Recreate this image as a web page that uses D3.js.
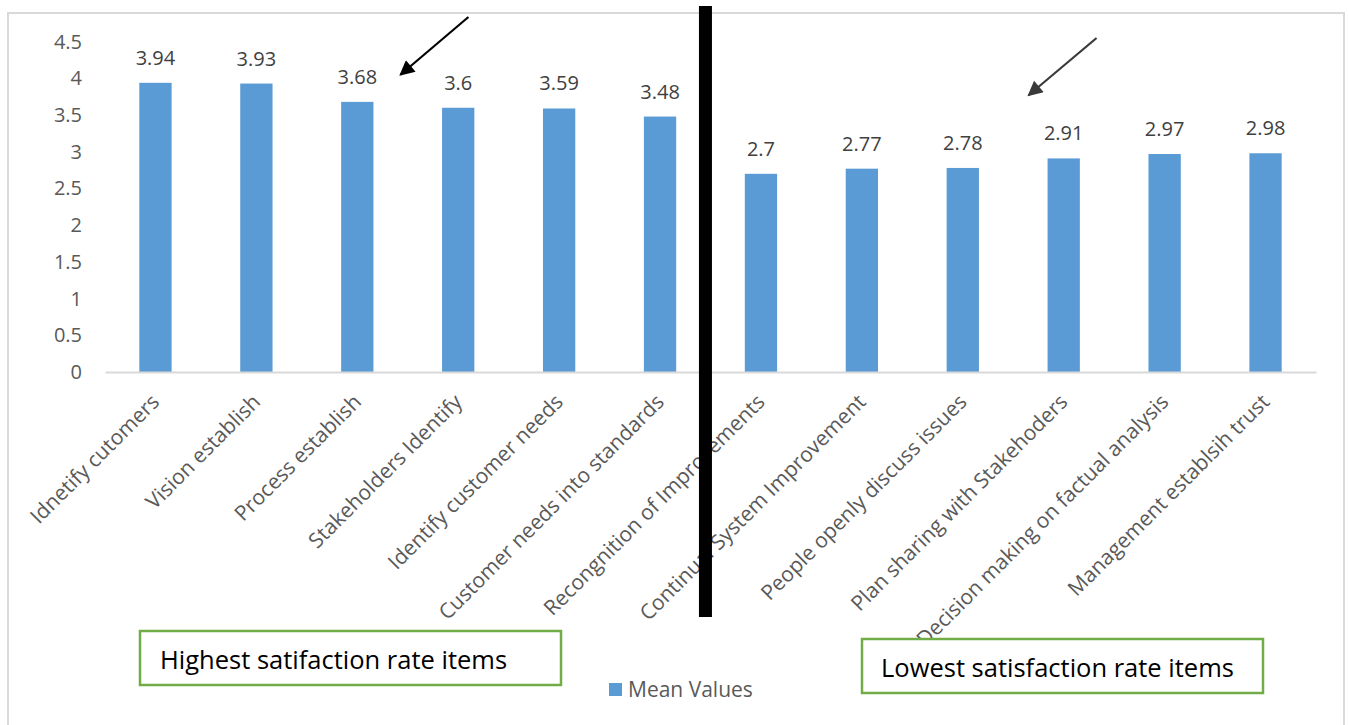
<!DOCTYPE html>
<html>
<head>
<meta charset="utf-8">
<script src="https://cdn.jsdelivr.net/npm/d3@7"></script>
<style>
  html, body { margin: 0; padding: 0; background: #ffffff; }
  svg { display: block; font-family: "Open Sans", "Noto Sans", sans-serif; }
</style>
</head>
<body>
<svg id="chart" width="1349" height="725"></svg>
<script>
// Survey items and their mean satisfaction values
const categories = [
  "Idnetify cutomers",
  "Vision establish",
  "Process establish",
  "Stakeholders Identify",
  "Identify customer needs",
  "Customer needs into standards",
  "Recongnition of Improvements",
  "Continual System Improvement",
  "People openly discuss issues",
  "Plan sharing with Stakehoders",
  "Decision making on factual analysis",
  "Management establsih trust"
];
const meanValues = [3.94, 3.93, 3.68, 3.6, 3.59, 3.48, 2.7, 2.77, 2.78, 2.91, 2.97, 2.98];
const yTicks = [0, 0.5, 1, 1.5, 2, 2.5, 3, 3.5, 4, 4.5];
const seriesName = "Mean Values";
const groupLabels = ["Highest satifaction rate items", "Lowest satisfaction rate items"];

const svg = d3.select("#chart");

// chart frame
svg.append("path")
  .attr("d", "M8,725 L8,13 L1344,13 L1344,725")
  .attr("fill", "none")
  .attr("stroke", "#d9d9d9")
  .attr("stroke-width", 2);

const x = d3.scaleBand()
  .domain(categories)
  .range([105, 1316])
  .paddingInner(0.68)
  .paddingOuter(0.34);

const y = d3.scaleLinear()
  .domain([0, 4.5])
  .range([372, 41.7]);

// y axis labels (no axis line, no ticks)
const yAxis = d3.axisLeft(y)
  .tickValues(yTicks)
  .tickSize(0)
  .tickPadding(0)
  .tickFormat(d3.format("~g"));
const yg = svg.append("g")
  .attr("transform", "translate(82,0)")
  .call(yAxis);
yg.select(".domain").remove();
yg.selectAll("text")
  .attr("font-family", "Open Sans, sans-serif")
  .attr("font-size", 20)
  .attr("fill", "#595959");

// bars
svg.append("g").selectAll("rect")
  .data(meanValues)
  .join("rect")
  .attr("x", (d, i) => x(categories[i]))
  .attr("width", x.bandwidth())
  .attr("y", d => y(d))
  .attr("height", d => y(0) - y(d))
  .attr("fill", "#5b9bd5");

// baseline / category axis
const xAxis = d3.axisBottom(x).tickSize(0).tickPadding(0);
const xg = svg.append("g")
  .attr("transform", `translate(0,${y(0)})`)
  .call(xAxis);
xg.select(".domain")
  .attr("stroke", "#d9d9d9")
  .attr("stroke-width", 2);
xg.selectAll(".tick text")
  .attr("font-family", "Open Sans, sans-serif")
  .attr("font-size", 21)
  .attr("fill", "#595959")
  .attr("text-anchor", "end")
  .attr("dy", "0.35em")
  .attr("transform", "translate(0,26) rotate(-45)");

// value labels
svg.append("g").selectAll("text")
  .data(meanValues)
  .join("text")
  .attr("x", (d, i) => x(categories[i]) + x.bandwidth() / 2)
  .attr("y", d => y(d) - 18)
  .attr("text-anchor", "middle")
  .attr("font-size", 20)
  .attr("fill", "#404040")
  .text(d => d3.format("~g")(d));

// divider between the two groups
const divX = x(categories[6]) - x.step() * 0.39;
svg.append("rect")
  .attr("x", divX - 6.5)
  .attr("y", 6)
  .attr("width", 13)
  .attr("height", 611)
  .attr("fill", "#000000");

// arrows
const defs = svg.append("defs");
function arrowMarker(id, color) {
  defs.append("marker")
    .attr("id", id)
    .attr("viewBox", "0 0 10 10")
    .attr("refX", 9)
    .attr("refY", 5)
    .attr("markerUnits", "userSpaceOnUse")
    .attr("markerWidth", 18)
    .attr("markerHeight", 15)
    .attr("orient", "auto")
    .append("path")
    .attr("d", "M0,0 L10,5 L0,10 Z")
    .attr("fill", color);
}
arrowMarker("arrowBlack", "#000000");
arrowMarker("arrowGray", "#3a3a3a");

const a1x = x(categories[2]) + x.bandwidth() + 27;
svg.append("line")
  .attr("x1", a1x + 68).attr("y1", 17)
  .attr("x2", a1x).attr("y2", y(4.05))
  .attr("stroke", "#000000")
  .attr("stroke-width", 2.2)
  .attr("marker-end", "url(#arrowBlack)");

const a2x = x(categories[9]) - 19;
svg.append("line")
  .attr("x1", a2x + 68).attr("y1", 38)
  .attr("x2", a2x).attr("y2", y(3.77))
  .attr("stroke", "#3a3a3a")
  .attr("stroke-width", 2.2)
  .attr("marker-end", "url(#arrowGray)");

// group label boxes
const boxes = [
  { x: 140, y: 631, w: 421, h: 54, tx: 160, ty: 669 },
  { x: 862, y: 639, w: 401, h: 54, tx: 881, ty: 677 }
];
boxes.forEach((b, i) => {
  svg.append("rect")
    .attr("x", b.x).attr("y", b.y)
    .attr("width", b.w).attr("height", b.h)
    .attr("fill", "#ffffff")
    .attr("stroke", "#70ad47")
    .attr("stroke-width", 2.5);
  svg.append("text")
    .attr("x", b.tx).attr("y", b.ty)
    .attr("font-family", "Open Sans, sans-serif")
    .attr("font-size", 25.5)
    .attr("fill", "#000000")
    .text(groupLabels[i]);
});

// legend
const lg = svg.append("g").attr("transform", "translate(609,683)");
lg.append("rect").attr("width", 13).attr("height", 13).attr("fill", "#5b9bd5");
lg.append("text")
  .attr("x", 19).attr("y", 14)
  .attr("font-size", 21)
  .attr("fill", "#595959")
  .text(seriesName);
</script>
</body>
</html>
